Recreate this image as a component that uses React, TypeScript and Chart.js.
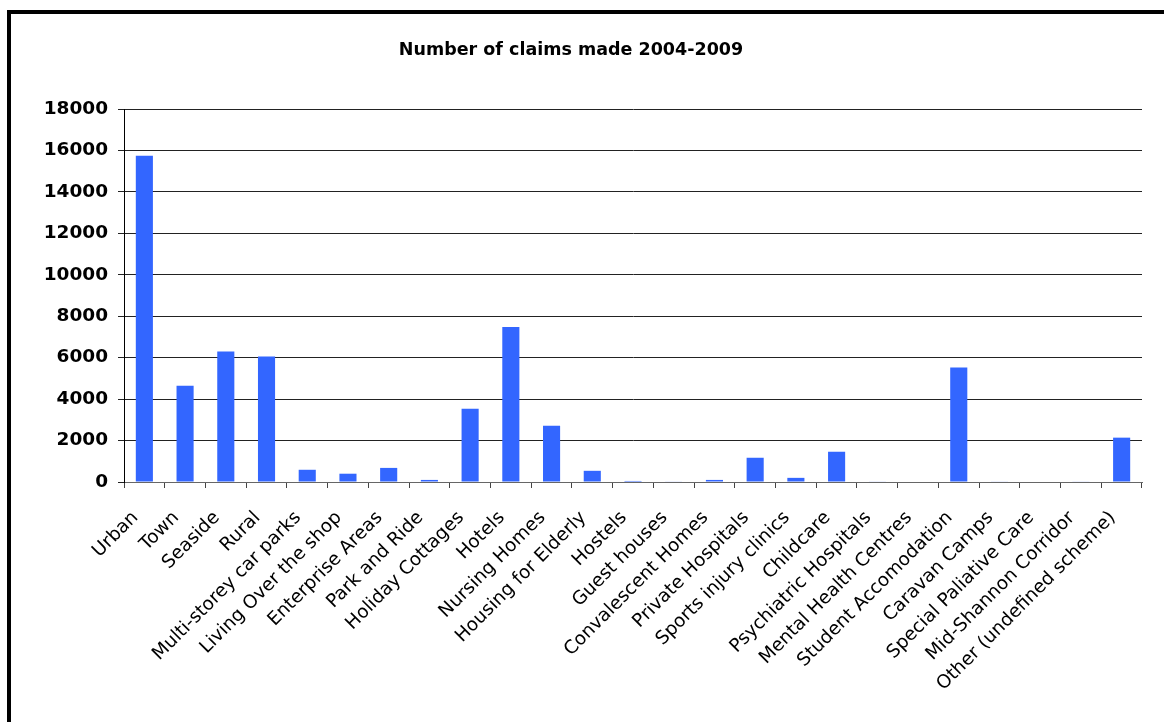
import React, { useEffect, useRef } from "react";
import { Chart, registerables } from "chart.js";

Chart.register(...registerables);

const categories = [
  "Urban",
  "Town",
  "Seaside",
  "Rural",
  "Multi-storey car parks",
  "Living Over the shop",
  "Enterprise Areas",
  "Park and Ride",
  "Holiday Cottages",
  "Hotels",
  "Nursing Homes",
  "Housing for Elderly",
  "Hostels",
  "Guest houses",
  "Convalescent Homes",
  "Private Hospitals",
  "Sports injury clinics",
  "Childcare",
  "Psychiatric Hospitals",
  "Mental Health Centres",
  "Student Accomodation",
  "Caravan Camps",
  "Special Paliative Care",
  "Mid-Shannon Corridor",
  "Other (undefined scheme)",
];

const claims = [
  15740, 4640, 6300, 6060, 590, 400, 680, 100, 3530, 7480, 2710, 540, 50, 20,
  100, 1170, 200, 1460, 20, 0, 5520, 20, 0, 20, 2140,
];

const yTicks = [0, 2000, 4000, 6000, 8000, 10000, 12000, 14000, 16000, 18000];

const titleText = "Number of claims made 2004-2009";

export default function App() {
  const canvasRef = useRef<HTMLCanvasElement | null>(null);

  useEffect(() => {
    const canvas = canvasRef.current;
    if (!canvas) return;
    const chart = new Chart(canvas, {
      type: "bar",
      data: {
        labels: categories,
        datasets: [
          {
            label: "Claims",
            data: claims,
            backgroundColor: "#3366FF",
            borderWidth: 0,
            barPercentage: 0.42,
            categoryPercentage: 1,
          },
        ],
      },
      options: {
        animation: false,
        responsive: false,
        maintainAspectRatio: false,
        layout: { padding: { top: 0, right: 2, left: 0, bottom: 0 } },
        plugins: {
          legend: { display: false },
          tooltip: { enabled: false },
          title: {
            display: true,
            text: titleText,
            color: "#000",
            font: { family: "DejaVu Sans", size: 17.5, weight: "bold", lineHeight: 1.2 },
            padding: { top: 40.2, bottom: 47.8 },
          },
        },
        scales: {
          x: {
            grid: {
              display: true,
              drawOnChartArea: false,
              drawTicks: true,
              tickLength: 6,
              offset: true,
              color: "#444",
            },
            border: { display: true, color: "#666", width: 1 },
            ticks: {
              autoSkip: false,
              maxRotation: 45,
              minRotation: 45,
              padding: 19,
              labelOffset: -9,
              color: "#000",
              font: { family: "DejaVu Sans", size: 18.5 },
            },
            afterFit: (scale: any) => {
              scale.height = 240;
              scale.paddingLeft = 0;
              scale.paddingRight = 0;
            },
          },
          y: {
            min: 0,
            max: 18000,
            afterBuildTicks: (scale: any) => {
              scale.ticks = yTicks.map((v) => ({ value: v }));
            },
            grid: {
              color: "#222",
              lineWidth: 1,
              drawTicks: true,
              tickLength: 6,
            },
            border: { display: true, color: "#000", width: 1 },
            ticks: {
              padding: 10,
              color: "#000",
              font: { family: "DejaVu Sans", size: 18.5, weight: "bold" },
              callback: (value: any) => String(value),
            },
            afterFit: (scale: any) => {
              scale.width = 124;
            },
          },
        },
      },
    });
    return () => chart.destroy();
  }, []);

  return (
    <div
      style={{
        position: "fixed",
        left: 0,
        top: 0,
        width: "100vw",
        height: "100vh",
        overflow: "hidden",
        background: "#fff",
      }}
    >
      <div
        style={{
          position: "absolute",
          left: 7,
          top: 10,
          width: 1400,
          height: 1000,
          border: "4px solid #000",
          boxSizing: "border-box",
        }}
      />
      <canvas
        ref={canvasRef}
        width={1144}
        height={722}
        style={{ position: "absolute", left: 0, top: 0, width: 1144, height: 722 }}
      />
    </div>
  );
}
